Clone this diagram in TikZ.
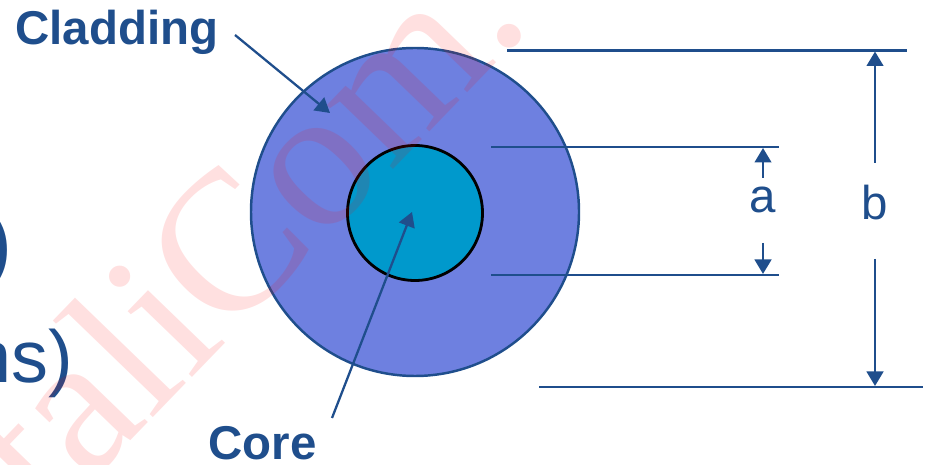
\documentclass[tikz,border=0pt]{standalone}
\usepackage{fontspec}
\setmainfont{Liberation Sans}
\newfontfamily\markfont{Liberation Serif}
\usepackage{xcolor}
\usetikzlibrary{arrows.meta,positioning}
\definecolor{fibreblue}{RGB}{31,78,140}
\definecolor{claddingfill}{RGB}{110,128,224}
\definecolor{corefill}{RGB}{0,153,204}

\begin{document}
\begin{tikzpicture}[
  label/.style={font=\fontsize{27}{30}\selectfont\bfseries, text=fibreblue, inner sep=0},
  dimtext/.style={font=\fontsize{27}{30}\selectfont, text=fibreblue, inner sep=0},
  dimline/.style={draw=fibreblue, line width=1.6pt},
  >={Triangle[length=2.9mm,width=3.3mm]},
  ]
  \useasboundingbox (0,0) rectangle (18.6,9.3);

  % Fibre
  \node[circle, draw=fibreblue, fill=claddingfill, line width=1.4pt,
        minimum size=6.56cm] (cladding) at (8.3,5.06) {};
  \node[circle, draw=black, fill=corefill, line width=1.6pt,
        minimum size=2.7cm] (core) at (8.3,5.04) {};

  % Textes
  \node[label, anchor=base west] (cladtxt) at (0.3,8.4) {Cladding};
  \node[label, anchor=base west] (coretxt) at (4.16,0.1) {Core};
  \node[font=\fontsize{42}{46}\selectfont\bfseries, text=fibreblue, inner sep=0,
        anchor=base east] (paren) at (0.22,3.9) {)};
  \node[font=\fontsize{42}{46}\selectfont, text=fibreblue, inner sep=0,
        anchor=base east] (units) at (1.46,1.64) {ns)};

  % Fleches
  \coordinate (cladfrom) at (4.7,8.6);
  \coordinate (cladtip)  at (6.6,7.04);
  \coordinate (corefrom) at (6.64,0.94);
  \coordinate (coretip)  at (8.24,5.06);
  \draw[dimline, line width=1.3pt, ->] (cladfrom) -- (cladtip);
  \draw[dimline, line width=1.3pt, ->] (corefrom) -- (coretip);

  % Cotes a
  \coordinate (atl) at (9.82,6.36);  \coordinate (atr) at (15.58,6.36);
  \coordinate (abl) at (9.82,3.80);  \coordinate (abr) at (15.58,3.80);
  \draw[dimline] (atl) -- (atr);
  \draw[dimline] (abl) -- (abr);
  \node[dimtext, anchor=base] (alab) at (15.26,5.04) {a};
  \coordinate (atop) at (15.26,6.34);
  \coordinate (abot) at (15.26,3.82);
  \draw[dimline, ->] (15.26,5.74) -- (atop);
  \draw[dimline, ->] (15.26,4.44) -- (abot);

  % Cotes b
  \coordinate (btl) at (10.14,8.29); \coordinate (btr) at (18.14,8.29);
  \coordinate (bbl) at (10.78,1.56); \coordinate (bbr) at (18.46,1.56);
  \draw[dimline] (btl) -- (btr);
  \draw[dimline] (bbl) -- (bbr);
  \node[dimtext, anchor=base] (blab) at (17.5,4.9) {b};
  \coordinate (btop) at (17.5,8.27);
  \coordinate (bbot) at (17.5,1.58);
  \draw[dimline, ->] (17.5,6.04) -- (btop);
  \draw[dimline, ->] (17.5,4.12) -- (bbot);

  % Filigrane
  \node[font=\markfont\fontsize{114}{114}\selectfont, text=red, text opacity=0.12,
        rotate=46] (mark) at (4.85,4.75) {taliCom.};
\end{tikzpicture}
\end{document}
